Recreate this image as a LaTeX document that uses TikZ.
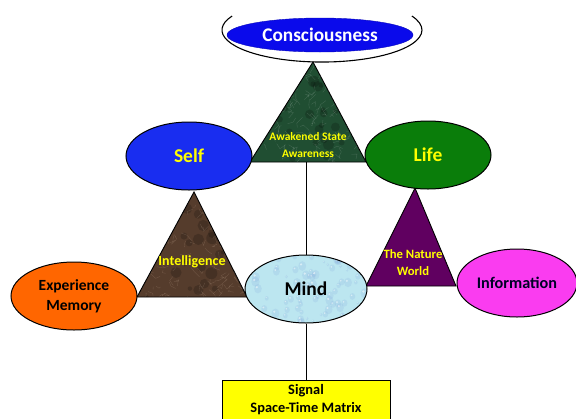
\documentclass[tikz,border=0pt]{standalone}
\usepackage{fontspec}
\setmainfont{Carlito}
\usetikzlibrary{shapes.geometric}
\definecolor{cblue}{RGB}{10,10,235}
\definecolor{sblue}{RGB}{25,45,240}
\definecolor{lgreen}{RGB}{10,125,10}
\definecolor{eorange}{RGB}{255,102,0}
\definecolor{imag}{RGB}{250,60,240}
\definecolor{npurple}{RGB}{96,0,96}
\definecolor{bmarble}{RGB}{85,60,44}
\definecolor{gmarble}{RGB}{32,78,50}
\definecolor{mblue}{RGB}{188,230,240}
\definecolor{tyellow}{RGB}{255,255,0}
\begin{document}
\begin{tikzpicture}[x=1pt,y=-1pt,font=\bfseries,
  ell/.style={ellipse,draw=black,line width=1pt,inner sep=0pt},
  tri/.style={draw=black,line width=0.9pt,line join=miter},
  conn/.style={draw=black,line width=1pt},
  ytext/.style={text=tyellow,align=center,inner sep=0pt},
  btext/.style={text=black,align=center,inner sep=0pt}]
\useasboundingbox (0,0) rectangle (576,418);
\clip (0,0) rectangle (576,418);

% ---------- coordinates of triangles ----------
\coordinate (gA) at (313,62);  \coordinate (gL) at (250,162); \coordinate (gR) at (366,162);
\coordinate (bA) at (194,192); \coordinate (bL) at (137,297); \coordinate (bR) at (247,297);
\coordinate (pA) at (415,188); \coordinate (pL) at (366,286); \coordinate (pR) at (456,286);

% ---------- Consciousness ----------
\draw[black,line width=1.1pt] (232.1,16) arc[start angle=206,end angle=-26,x radius=100,y radius=32];
\node[ellipse,fill=cblue,draw=cblue!80!black,line width=0.4pt,minimum width=186pt,minimum height=34pt,inner sep=0pt,
      text=white,font=\bfseries\fontsize{19.3}{21}\selectfont] (cons) at (320,35) {Consciousness};

% ---------- green marble triangle ----------
\begin{scope}
\clip (gA) -- (gL) -- (gR) -- cycle;
\fill[gmarble] (gA) -- (gL) -- (gR) -- cycle;
\pgfmathsetseed{11}
\foreach \i in {1,...,40}{
  \pgfmathsetmacro\xa{250+116*rnd}\pgfmathsetmacro\ya{62+100*rnd}
  \fill[black,opacity=0.18] (\xa,\ya) circle[radius=2+4*rnd];}
\foreach \i in {1,...,140}{
  \pgfmathsetmacro\xa{250+116*rnd}\pgfmathsetmacro\ya{62+100*rnd}
  \pgfmathsetmacro\dx{6*rand}\pgfmathsetmacro\dy{6*rand}
  \pgfmathsetmacro\ex{6*rand}\pgfmathsetmacro\ey{6*rand}
  \draw[white,opacity=0.16,line width=0.35pt] (\xa,\ya) -- ++(\dx,\dy) -- ++(\ex,\ey);}
\end{scope}
\draw[tri] (gA) -- (gL) -- (gR) -- cycle;

% ---------- brown marble triangle ----------
\begin{scope}
\clip (bA) -- (bL) -- (bR) -- cycle;
\fill[bmarble] (bA) -- (bL) -- (bR) -- cycle;
\pgfmathsetseed{5}
\foreach \i in {1,...,40}{
  \pgfmathsetmacro\xa{137+110*rnd}\pgfmathsetmacro\ya{192+105*rnd}
  \fill[black,opacity=0.18] (\xa,\ya) circle[radius=2+4*rnd];}
\foreach \i in {1,...,140}{
  \pgfmathsetmacro\xa{137+110*rnd}\pgfmathsetmacro\ya{192+105*rnd}
  \pgfmathsetmacro\dx{6*rand}\pgfmathsetmacro\dy{6*rand}
  \pgfmathsetmacro\ex{6*rand}\pgfmathsetmacro\ey{6*rand}
  \draw[white!80!orange,opacity=0.16,line width=0.35pt] (\xa,\ya) -- ++(\dx,\dy) -- ++(\ex,\ey);}
\end{scope}
\draw[tri] (bA) -- (bL) -- (bR) -- cycle;

% ---------- purple triangle ----------
\fill[npurple] (pA) -- (pL) -- (pR) -- cycle;
\draw[tri] (pA) -- (pL) -- (pR) -- cycle;

% ---------- Mind (water drops) ----------
\begin{scope}
\clip (306,289) ellipse[x radius=61,y radius=34];
\fill[mblue] (245,255) rectangle (367,323);
\pgfmathsetseed{3}
\foreach \i in {1,...,90}{
  \pgfmathsetmacro\xa{245+122*rnd}\pgfmathsetmacro\ya{255+68*rnd}
  \pgfmathsetmacro\rr{1.2+3*rnd}
  \fill[cyan!50!blue!50,opacity=0.18] (\xa,\ya) ellipse[x radius=\rr,y radius=1.2*\rr];
  \fill[white,opacity=0.5] (\xa-0.3*\rr,\ya-0.4*\rr) circle[radius=0.3*\rr];}
\end{scope}

% ---------- ellipses ----------
\node[ell,fill=sblue,minimum width=126pt,minimum height=68pt,text=tyellow,
      font=\bfseries\fontsize{19.5}{21}\selectfont] (self) at (189,156) {Self};
\node[ell,fill=lgreen,minimum width=126pt,minimum height=68pt,text=tyellow,
      font=\bfseries\fontsize{19.5}{21}\selectfont] (life) at (428,155) {Life};
\node[ell,fill=eorange,minimum width=126pt,minimum height=68pt,align=center,
      font=\bfseries\fontsize{15.5}{20}\selectfont] (exp) at (74,296) {Experience\\Memory};
\node[ell,minimum width=122pt,minimum height=68pt,
      font=\bfseries\fontsize{19.5}{21}\selectfont] (mind) at (306,289) {Mind};
\node[ell,fill=imag,minimum width=120pt,minimum height=68pt,text=black!85!blue,
      font=\bfseries\fontsize{16.2}{18}\selectfont] (info) at (517,283) {Information};

% ---------- signal box ----------
\node[draw=black,line width=1pt,fill=tyellow,minimum width=168pt,minimum height=60pt,anchor=north,
      inner sep=0pt] (sig) at (306,380) {};
\node[btext,font=\bfseries\fontsize{14.4}{18}\selectfont,anchor=north] (sigtxt) at (306,384) {Signal\\Space-Time Matrix};

% ---------- connectors ----------
\coordinate (gbase) at (mind.north |- gL);
\draw[conn] (gbase) -- (mind.north);
\draw[conn] (mind.south) -- (sig.north);

% ---------- triangle texts ----------
\node[ytext,font=\bfseries\fontsize{11.5}{17}\selectfont] (awk) at (308,145) {Awakened State\\Awareness};
\node[ytext,font=\bfseries\fontsize{14}{16}\selectfont] (intel) at (192,262) {Intelligence};
\node[ytext,font=\bfseries\fontsize{12.7}{17}\selectfont] (nat) at (413,263) {The Nature\\World};
\end{tikzpicture}
\end{document}
